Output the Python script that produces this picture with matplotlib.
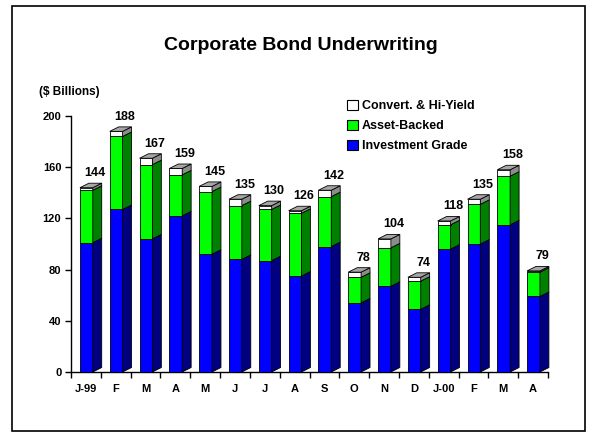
import matplotlib
matplotlib.use('Agg')
import matplotlib.pyplot as plt
from matplotlib.patches import Patch, Rectangle, Polygon

months = ['J-99', 'F', 'M', 'A', 'M', 'J', 'J', 'A', 'S', 'O', 'N', 'D', 'J-00', 'F', 'M', 'A']
totals = [144, 188, 167, 159, 145, 135, 130, 126, 142, 78, 104, 74, 118, 135, 158, 79]
investment_grade = [101, 127, 104, 122, 92, 88, 87, 75, 98, 54, 67, 49, 96, 100, 115, 59]
asset_backed = [41, 57, 58, 32, 49, 42, 40, 49, 39, 20, 30, 22, 19, 31, 38, 19]
hi_yield = [t - a - b for t, a, b in zip(totals, investment_grade, asset_backed)]

# front colour, side colour
styles = {
    'Investment Grade': ('#0000FF', '#000080'),
    'Asset-Backed': ('#00FF00', '#008000'),
    'Convert. & Hi-Yield': ('#FFFFFF', '#8C8C8C'),
}
top_color = '#A6A6A6'

plt.rcParams['font.family'] = ['Liberation Sans', 'DejaVu Sans']

W, H = 590, 433
fig = plt.figure(figsize=(W / 100, H / 100), dpi=100)
ax = fig.add_axes([71 / W, (H - 372) / H, 477 / W, 256 / H])

x_off, bar_w = 0.30, 0.43
dx, dy = 0.30, 3.5
lw = 0.6

series = [('Investment Grade', investment_grade),
          ('Asset-Backed', asset_backed),
          ('Convert. & Hi-Yield', hi_yield)]

for i in range(len(months)):
    x0 = i + x_off
    x1 = x0 + bar_w
    base = 0
    for name, vals in series:
        v = vals[i]
        if v <= 0:
            continue
        front, side = styles[name]
        ax.add_patch(Rectangle((x0, base), bar_w, v, facecolor=front,
                               edgecolor='black', lw=lw, zorder=3,
                               clip_on=False))
        ax.add_patch(Polygon([(x1, base), (x1 + dx, base + dy),
                              (x1 + dx, base + v + dy), (x1, base + v)],
                             closed=True, facecolor=side, edgecolor='black',
                             lw=lw, zorder=3, clip_on=False))
        base += v
    ax.add_patch(Polygon([(x0, base), (x1, base), (x1 + dx, base + dy),
                          (x0 + dx, base + dy)], closed=True,
                         facecolor=top_color, edgecolor='black', lw=lw,
                         zorder=3, clip_on=False))
    ax.annotate(str(totals[i]), ((x0 + x1) / 2 + dx, base + dy),
                xytext=(0, 3), textcoords='offset points', ha='center',
                va='bottom', fontsize=9, fontweight='bold')

ax.set_xlim(0, len(months))
ax.set_ylim(0, 200)

ax.spines['top'].set_visible(False)
ax.spines['right'].set_visible(False)
for s in ('left', 'bottom'):
    ax.spines[s].set_linewidth(1.0)

ax.set_yticks(range(0, 201, 40))
ax.set_yticklabels([str(v) for v in range(0, 201, 40)], fontsize=8,
                   fontweight='bold')
ax.tick_params(axis='y', direction='out', length=4, width=1, pad=3)

ax.set_xticks(range(len(months) + 1))
ax.set_xticklabels([])
ax.tick_params(axis='x', which='major', direction='out', length=4, width=1)
ax.set_xticks([i + 0.5 for i in range(len(months))], minor=True)
ax.set_xticklabels(months, minor=True, fontsize=8, fontweight='bold')
ax.tick_params(axis='x', which='minor', length=0, pad=9)

fig.text(301 / W, 1 - 45 / H, 'Corporate Bond Underwriting', ha='center',
         va='center', fontsize=14, fontweight='bold')
fig.text(39 / W, 1 - 92 / H, '($ Billions)', ha='left', va='center',
         fontsize=8.5, fontweight='bold')

handles = [Patch(facecolor=styles[n][0], edgecolor='black', lw=0.8)
           for n in ('Convert. & Hi-Yield', 'Asset-Backed', 'Investment Grade')]
labels = ['Convert. & Hi-Yield', 'Asset-Backed', 'Investment Grade']
fig.legend(handles, labels, loc='upper left',
           bbox_to_anchor=(347 / W, 1 - 100 / H), frameon=False,
           prop={'size': 9, 'weight': 'bold'}, handlelength=0.85,
           handleheight=0.85, handletextpad=0.35, labelspacing=0.6,
           borderaxespad=0, borderpad=0)

# outer frame
fig.patches.append(Rectangle((12 / W, 2 / H), 573 / W, 425 / H,
                             transform=fig.transFigure, fill=False,
                             edgecolor='black', lw=1.2))

fig.savefig('out.png', dpi=100)
